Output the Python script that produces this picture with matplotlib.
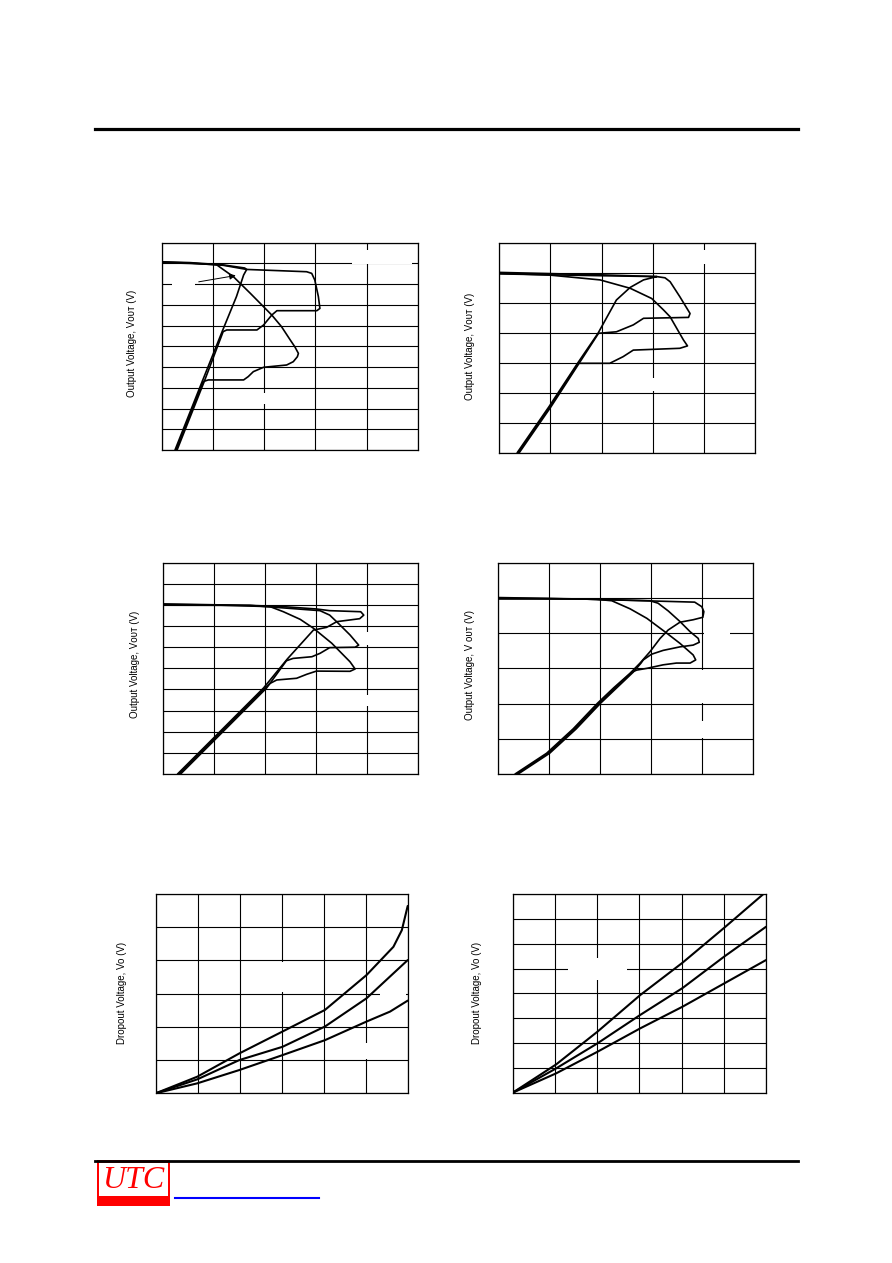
import matplotlib
matplotlib.use("Agg")
import matplotlib.pyplot as plt
from matplotlib.patches import Rectangle
from matplotlib.lines import Line2D

plt.rcParams['font.family'] = ['Liberation Sans', 'DejaVu Sans']

W, H = 892, 1263

# ---- panel 1 : output voltage, three traces (grid units 5 x 10)
p1_c1_x = [0.28, 0.81, 0.91, 1.60, 1.69, 1.79, 1.99, 2.44, 2.57, 2.65, 2.67, 2.60, 2.51, 2.34, 2.15, 1.99, 1.73, 1.40, 1.20, 1.07, 0.55, 0.0]
p1_c1_y = [0.0, 3.30, 3.38, 3.38, 3.54, 3.78, 3.99, 4.10, 4.26, 4.50, 4.66, 4.98, 5.31, 5.95, 6.51, 6.91, 7.56, 8.36, 8.71, 8.94, 9.00, 9.04]
p1_c2_x = [0.30, 0.83, 1.20, 1.27, 1.86, 1.99, 2.15, 2.25, 3.03, 3.09, 3.06, 2.99, 2.93, 2.83, 1.66, 1.20, 0.55, 0.0]
p1_c2_y = [0.0, 3.30, 5.71, 5.79, 5.79, 6.03, 6.51, 6.72, 6.72, 6.83, 7.40, 8.20, 8.52, 8.60, 8.71, 8.91, 9.02, 9.06]
p1_c3_x = [0.26, 0.79, 1.18, 1.46, 1.60, 1.66, 1.62, 1.20, 0.55, 0.0]
p1_c3_y = [0.0, 3.30, 5.71, 7.40, 8.44, 8.71, 8.78, 8.93, 9.04, 9.08]

# ---- panel 2 (grid 5 x 7)
p2_c1_x = [0.37, 0.99, 1.545, 2.16, 2.42, 2.62, 3.53, 3.68, 3.60, 3.34, 3.21, 2.98, 2.56, 1.97, 0.99, 0.0]
p2_c1_y = [0.0, 1.53, 2.98, 2.98, 3.20, 3.42, 3.48, 3.56, 3.76, 4.53, 4.76, 5.14, 5.48, 5.76, 5.92, 5.98]
p2_c2_x = [0.39, 1.01, 1.56, 1.94, 2.29, 2.62, 2.82, 3.70, 3.73, 3.53, 3.34, 3.24, 3.08, 1.97, 0.0]
p2_c2_y = [0.0, 1.53, 2.98, 3.98, 4.03, 4.26, 4.48, 4.51, 4.64, 5.20, 5.70, 5.83, 5.87, 5.93, 6.01]
p2_c3_x = [0.35, 0.97, 1.53, 1.93, 2.29, 2.56, 2.82, 3.01, 3.08, 1.97, 0.0]
p2_c3_y = [0.0, 1.53, 2.98, 3.98, 5.09, 5.51, 5.76, 5.84, 5.87, 5.90, 5.96]

# ---- panel 3 (grid 5 x 10)
p3_c1_x = [0.31, 1.0, 2.0, 2.10, 2.23, 2.62, 2.82, 3.01, 3.67, 3.77, 3.67, 3.31, 2.95, 2.69, 2.36, 2.10, 1.0, 0.0]
p3_c1_y = [0.0, 1.66, 4.07, 4.29, 4.45, 4.53, 4.72, 4.87, 4.86, 4.97, 5.31, 6.19, 6.90, 7.32, 7.68, 7.92, 8.0, 8.02]
p3_c2_x = [0.34, 1.03, 2.03, 2.42, 2.55, 2.92, 3.08, 3.27, 3.77, 3.84, 3.67, 3.44, 3.27, 3.08, 1.70, 0.0]
p3_c2_y = [0.0, 1.66, 4.07, 5.36, 5.47, 5.55, 5.71, 5.98, 6.00, 6.10, 6.58, 7.13, 7.52, 7.73, 7.98, 8.05]
p3_c3_x = [0.28, 0.97, 1.97, 2.44, 2.95, 3.21, 3.41, 3.86, 3.94, 3.88, 3.27, 3.01, 2.36, 1.70, 0.0]
p3_c3_y = [0.0, 1.66, 4.07, 5.45, 6.81, 6.94, 7.21, 7.35, 7.52, 7.68, 7.73, 7.81, 7.92, 7.98, 7.99]

# ---- panel 4 (grid 5 x 6)
p4_c1_x = [0.36, 0.98, 1.50, 1.98, 2.30, 2.62, 2.72, 2.92, 3.24, 3.50, 3.77, 3.88, 3.83, 3.57, 3.31, 2.92, 2.59, 2.23, 1.93, 1.0, 0.0]
p4_c1_y = [0.0, 0.59, 1.28, 2.01, 2.45, 2.89, 2.95, 3.00, 3.10, 3.15, 3.15, 3.24, 3.38, 3.71, 4.00, 4.42, 4.69, 4.92, 4.96, 4.98, 4.99]
p4_c2_x = [0.39, 1.01, 1.53, 2.01, 2.33, 2.65, 2.80, 2.85, 3.01, 3.24, 3.57, 3.83, 3.95, 3.93, 3.77, 3.57, 3.34, 3.14, 2.98, 1.60, 0.0]
p4_c2_y = [0.0, 0.59, 1.28, 2.01, 2.45, 2.89, 3.14, 3.24, 3.40, 3.51, 3.61, 3.66, 3.74, 3.85, 4.04, 4.33, 4.63, 4.85, 4.92, 4.97, 5.01]
p4_c3_x = [0.33, 0.95, 1.47, 1.95, 2.27, 2.59, 2.78, 2.98, 3.18, 3.34, 3.57, 3.83, 4.02, 4.04, 4.00, 3.86, 3.11, 1.61, 0.0]
p4_c3_y = [0.0, 0.59, 1.28, 2.01, 2.45, 2.86, 3.14, 3.47, 3.85, 4.09, 4.31, 4.38, 4.45, 4.61, 4.75, 4.88, 4.91, 4.97, 4.97]

# ---- panel 5 : dropout voltage (grid 6 x 6)
p5_c1_x = [0.0, 0.99, 1.99, 3.02, 4.03, 5.02, 5.66, 5.86, 6.0]
p5_c1_y = [0.0, 0.50, 1.20, 1.86, 2.51, 3.56, 4.41, 4.91, 5.64]
p5_c2_x = [0.0, 0.99, 1.99, 3.02, 4.03, 5.02, 6.0]
p5_c2_y = [0.0, 0.42, 1.00, 1.40, 2.01, 2.86, 4.01]
p5_c3_x = [0.0, 0.99, 1.99, 3.02, 4.03, 5.02, 5.58, 6.0]
p5_c3_y = [0.0, 0.30, 0.70, 1.15, 1.60, 2.16, 2.46, 2.79]

# ---- panel 6 : dropout voltage (grid 6 x 8)
p6_c1_x = [0.0, 1.03, 2.01, 3.02, 4.02, 5.01, 5.94]
p6_c1_y = [0.0, 1.14, 2.46, 3.93, 5.23, 6.64, 8.0]
p6_c2_x = [0.0, 1.03, 2.01, 3.02, 4.02, 5.01, 6.0]
p6_c2_y = [0.0, 0.98, 1.99, 3.13, 4.21, 5.48, 6.68]
p6_c3_x = [0.0, 1.03, 2.01, 3.02, 4.02, 5.01, 6.0]
p6_c3_y = [0.0, 0.78, 1.65, 2.59, 3.46, 4.40, 5.34]

vout_label = "Output Voltage, V\u1d0f\u1d1c\u1d1b (V)"
vout_label2 = "Output Voltage, V \u1d0f\u1d1c\u1d1b (V)"
drop_label = "Dropout Voltage, Vo (V)"


def box(l, r, t, b):
    return [l / W, 1 - b / H, (r - l) / W, (b - t) / H]


def panel(rect, ncol, nrow):
    ax = fig.add_axes(box(*rect))
    ax.set_xlim(0, ncol)
    ax.set_ylim(0, nrow)
    ax.set_xticks(range(ncol + 1))
    ax.set_yticks(range(nrow + 1))
    ax.tick_params(length=0, labelbottom=False, labelleft=False)
    ax.set_axisbelow(True)
    ax.grid(True, color='black', lw=0.8)
    for s in ax.spines.values():
        s.set_linewidth(0.9)
    return ax


def blank(ax, x0, x1, y0, y1):
    # white label boxes that cut the grid in the original
    ax.add_patch(Rectangle((x0, y0), x1 - x0, y1 - y0, fc='white', ec='none', zorder=1))


def ylabel(x, y, txt):
    fig.text(x / W, 1 - y / H, txt, rotation=90, ha='center', va='center', fontsize=7)


fig = plt.figure(figsize=(W / 100, H / 100), dpi=100)

# header / footer rules
fig.add_artist(Line2D([95 / W, 798 / W], [1 - 128.5 / H] * 2, color='black', lw=2.3))
fig.add_artist(Line2D([95 / W, 798 / W], [1 - 1161 / H] * 2, color='black', lw=2.0))
fig.add_artist(Line2D([175 / W, 319 / W], [1 - 1198 / H] * 2, color='#0000ff', lw=1.5))

curve_kw = dict(color='black', lw=1.2, solid_joinstyle='round', solid_capstyle='round', zorder=2)

ax1 = panel((161.7, 417.7, 242.7, 450), 5, 10)
blank(ax1, 0.2, 0.66, 7.75, 8.35)
blank(ax1, 3.71, 4.88, 8.97, 9.65)
blank(ax1, 1.7, 2.3, 2.2, 2.75)
for xs, ys in [(p1_c1_x, p1_c1_y), (p1_c2_x, p1_c2_y), (p1_c3_x, p1_c3_y)]:
    ax1.plot(xs, ys, **curve_kw)
ax1.annotate("", xy=(1.50, 8.44), xytext=(0.67, 8.09),
             arrowprops=dict(arrowstyle='-|>', color='black', lw=0.7, mutation_scale=9))
ylabel(132, 343, vout_label)

ax2 = panel((499.3, 755, 242.7, 452.7), 5, 7)
blank(ax2, 3.4, 4.7, 6.3, 6.76)
blank(ax2, 2.5, 3.6, 2.05, 2.5)
for xs, ys in [(p2_c1_x, p2_c1_y), (p2_c2_x, p2_c2_y), (p2_c3_x, p2_c3_y)]:
    ax2.plot(xs, ys, **curve_kw)
ylabel(470, 346, vout_label)

ax3 = panel((163.3, 417.7, 562.7, 774), 5, 10)
blank(ax3, 3.95, 4.6, 6.1, 6.73)
blank(ax3, 3.8, 4.6, 3.2, 3.75)
for xs, ys in [(p3_c1_x, p3_c1_y), (p3_c2_x, p3_c2_y), (p3_c3_x, p3_c3_y)]:
    ax3.plot(xs, ys, **curve_kw)
ylabel(135, 664, vout_label)

ax4 = panel((498.3, 752.7, 562.7, 774), 5, 6)
blank(ax4, 4.05, 4.56, 3.06, 4.04)
blank(ax4, 3.97, 4.5, 2.03, 2.95)
blank(ax4, 3.97, 4.5, 1.03, 1.5)
for xs, ys in [(p4_c1_x, p4_c1_y), (p4_c2_x, p4_c2_y), (p4_c3_x, p4_c3_y)]:
    ax4.plot(xs, ys, **curve_kw)
ylabel(470, 665, vout_label2)

ax5 = panel((155.7, 407.7, 894, 1093.3), 6, 6)
blank(ax5, 2.5, 3.5, 3.05, 3.95)
blank(ax5, 5.33, 5.97, 2.6, 3.4)
blank(ax5, 4.6, 5.4, 1.02, 1.5)
for xs, ys in [(p5_c1_x, p5_c1_y), (p5_c2_x, p5_c2_y), (p5_c3_x, p5_c3_y)]:
    ax5.plot(xs, ys, **dict(curve_kw, lw=1.5))
ylabel(122, 993, drop_label)

ax6 = panel((512.7, 766, 894, 1092.7), 6, 8)
blank(ax6, 1.32, 2.7, 4.55, 5.42)
for xs, ys in [(p6_c1_x, p6_c1_y), (p6_c2_x, p6_c2_y), (p6_c3_x, p6_c3_y)]:
    ax6.plot(xs, ys, **dict(curve_kw, lw=1.5))
ylabel(477, 993, drop_label)

# UTC logo
red = '#ff0000'
fig.add_artist(Rectangle((96.7 / W, 1 - 1205.7 / H), 73.3 / W, 45.7 / H,
                         transform=fig.transFigure, fc=red, ec='none'))
fig.add_artist(Rectangle((98.7 / W, 1 - 1195.7 / H), 69.3 / W, 32.4 / H,
                         transform=fig.transFigure, fc='white', ec='none'))
fig.text(133.5 / W, 1 - 1181 / H, "UTC", color=red, fontsize=23, style='italic',
         family=['Liberation Serif', 'DejaVu Serif'], ha='center', va='center')

fig.savefig("out.png", dpi=100)
